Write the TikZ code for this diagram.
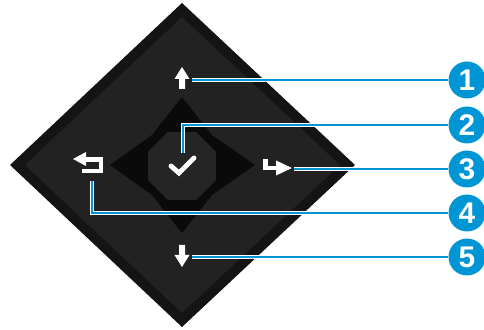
\documentclass[tikz,border=0pt]{standalone}
\usepackage{fontspec}
\setsansfont{Liberation Sans}
\definecolor{hpblue}{HTML}{0096D6}
\definecolor{rimgrey}{HTML}{141414}
\definecolor{padgrey}{HTML}{222222}
\definecolor{stargrey}{HTML}{0A0A0A}
\definecolor{hubgrey}{HTML}{252525}
\tikzset{
	numdot/.style = {circle, fill=hpblue, minimum size=0.74cm, inner sep=0pt, text=white,
		font=\sffamily\bfseries\fontsize{17}{17}\selectfont},
	leader/.style = {draw=white, line width=0.5pt, double=hpblue, double distance=1.7pt},
	glyph/.style = {draw=white, line width=2.8pt}
}
\begin{document}
\begin{tikzpicture}[x=0.02cm, y=-0.02cm]
	\useasboundingbox (0,0) rectangle (484,330);
	\begin{scope}[]
	% outside framing and pad
	\fill [rimgrey] (182,3) -- (355,165) -- (182,327) -- (10,165) -- cycle;
	\fill [padgrey] (182,17) -- (340,165) -- (182,313) -- (25,165) -- cycle;
	% star and centre button
	\fill [stargrey] (182,97) -- (212,135) -- (255,165) -- (212,195) -- (182,233) 
		-- (152,195) -- (110,165) -- (152,135) -- cycle;
	\fill [hubgrey, shift={(182,166)}] (22.5:36.8) foreach \a in {67.5,112.5,...,337.5} {-- (\a:36.8)} -- cycle;
	\end{scope}
	% keys
	\fill [white] (182,67) -- (189.5,79) -- (185,79) -- (185,89) -- (179,89) -- (179,79) -- (174.5,79) -- cycle;
	\fill [white] (182,267) -- (189.5,255) -- (185,255) -- (185,245) -- (179,245) -- (179,255) -- (174.5,255) -- cycle;
	\draw [glyph, line cap=round] (171,166) -- (179,173) -- (194,158);
	\fill [white] (73,159) -- (86,152) -- (86,166) -- cycle;
	\draw [glyph] (85,159.5) -- (101,159.5) -- (101,171) -- (82,171);
	\draw [glyph] (265.5,159) -- (265.5,168) -- (278,168);
	\fill [white] (276,160.5) -- (292,168) -- (276,175.5) -- cycle;
	\coordinate (up) at (192,80);
	\coordinate (ok) at (183,153);
	\coordinate (next) at (294,169);
	\coordinate (back) at (92,181);
	\coordinate (down) at (192,257);
	% callouts
	\node [numdot] (n1) at (467,80) {1};
	\node [numdot] (n2) at (467,125) {2};
	\node [numdot] (n3) at (467,169) {3};
	\node [numdot] (n4) at (467,213) {4};
	\node [numdot] (n5) at (467,257) {5};
	\draw [leader] (up) -- (n1);
	\draw [leader] (ok) |- (n2);
	\draw [leader] (next) -- (n3);
	\draw [leader] (back) |- (n4);
	\draw [leader] (down) -- (n5);
\end{tikzpicture}
\end{document}
